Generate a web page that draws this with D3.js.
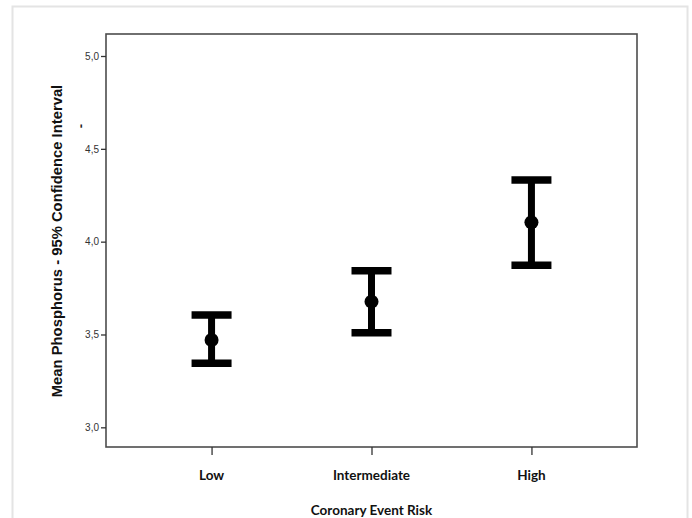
<!DOCTYPE html>
<html>
<head>
<meta charset="utf-8">
<script src="https://cdn.jsdelivr.net/npm/d3@7"></script>
<style>
  body { margin: 0; background: #fff; }
  .tick text { font-family: "Liberation Sans", Arial, sans-serif; font-size: 10px; fill: #333; }
  .cat { font-family: Lato, "Open Sans", sans-serif; font-weight: bold; font-size: 13.5px; fill: #111; }
</style>
</head>
<body>
<svg width="692" height="518"></svg>
<script>
// chart values
var categories = ["Low", "Intermediate", "High"],
    means = [3.47, 3.677, 4.104],
    lower = [3.345, 3.51, 3.873],
    upper = [3.605, 3.843, 4.332],
    yTicks = [3.0, 3.5, 4.0, 4.5, 5.0];

var svg = d3.select("svg"),
    margin = {top: 34, left: 106, right: 55, bottom: 71},
    width = 692 - margin.left - margin.right,
    height = 518 - margin.top - margin.bottom;

// faint outer frame
svg.append("rect")
    .attr("x", 12.5).attr("y", 6.5)
    .attr("width", 675).attr("height", 520)
    .attr("fill", "none")
    .attr("stroke", "#e4e4e4")
    .attr("stroke-width", 2);

var x = d3.scalePoint().domain(categories).range([0, width]).padding(0.66),
    y = d3.scaleLinear().domain([2.894, 5.1185]).range([height, 0]);

var g = svg.append("g")
    .attr("transform", "translate(" + margin.left + "," + margin.top + ")");

g.append("rect")
    .attr("width", width).attr("height", height)
    .attr("fill", "none")
    .attr("stroke", "#4d4d4d")
    .attr("stroke-width", 1.6);

var yAxis = d3.axisLeft(y).tickValues(yTicks).tickSize(5).tickPadding(2)
    .tickFormat(function(d) { return d3.format(".1f")(d).replace(".", ","); });

g.append("g").call(yAxis)
    .call(function(s) { s.select(".domain").remove(); })
    .call(function(s) { s.selectAll(".tick line").attr("stroke", "#333").attr("stroke-width", 1.3); });

var xAxis = d3.axisBottom(x).tickSize(8).tickFormat("");

g.append("g")
    .attr("transform", "translate(0," + height + ")")
    .call(xAxis)
    .call(function(s) { s.select(".domain").remove(); })
    .call(function(s) { s.selectAll(".tick line").attr("stroke", "#333").attr("stroke-width", 1.3); });

g.selectAll(".cat")
    .data(categories)
  .enter().append("text")
    .attr("class", "cat")
    .attr("x", function(d) { return x(d); })
    .attr("y", height + 33)
    .attr("text-anchor", "middle")
    .text(function(d) { return d; });

g.append("text")
    .attr("class", "cat")
    .attr("x", x("Intermediate"))
    .attr("y", height + 68)
    .attr("text-anchor", "middle")
    .text("Coronary Event Risk");

svg.append("text")
    .attr("transform", "translate(62,241) rotate(-90)")
    .attr("text-anchor", "middle")
    .style("font-family", "'Liberation Sans', Arial, sans-serif")
    .style("font-weight", "bold")
    .style("font-size", "14.8px")
    .attr("fill", "#111")
    .text("Mean Phosphorus - 95% Confidence Interval");

// stray dash above the plot, as in the source
svg.append("text")
    .attr("transform", "translate(85,126) rotate(-90)")
    .attr("text-anchor", "middle")
    .style("font-family", "'Liberation Sans', Arial, sans-serif")
    .style("font-weight", "bold")
    .style("font-size", "13px")
    .attr("fill", "#222")
    .text("-");

// error bars
var bars = g.selectAll(".bar")
    .data(categories)
  .enter().append("g")
    .attr("class", "bar");

bars.append("line")
    .attr("x1", function(d) { return x(d); })
    .attr("x2", function(d) { return x(d); })
    .attr("y1", function(d, i) { return y(upper[i]); })
    .attr("y2", function(d, i) { return y(lower[i]); })
    .attr("stroke", "#000")
    .attr("stroke-width", 7);

[upper, lower].forEach(function(arr) {
  bars.append("line")
      .attr("x1", function(d) { return x(d) - 20; })
      .attr("x2", function(d) { return x(d) + 20; })
      .attr("y1", function(d, i) { return y(arr[i]); })
      .attr("y2", function(d, i) { return y(arr[i]); })
      .attr("stroke", "#000")
      .attr("stroke-width", 7.5);
});

bars.append("circle")
    .attr("cx", function(d) { return x(d); })
    .attr("cy", function(d, i) { return y(means[i]); })
    .attr("r", 7)
    .attr("fill", "#000");
</script>
</body>
</html>
